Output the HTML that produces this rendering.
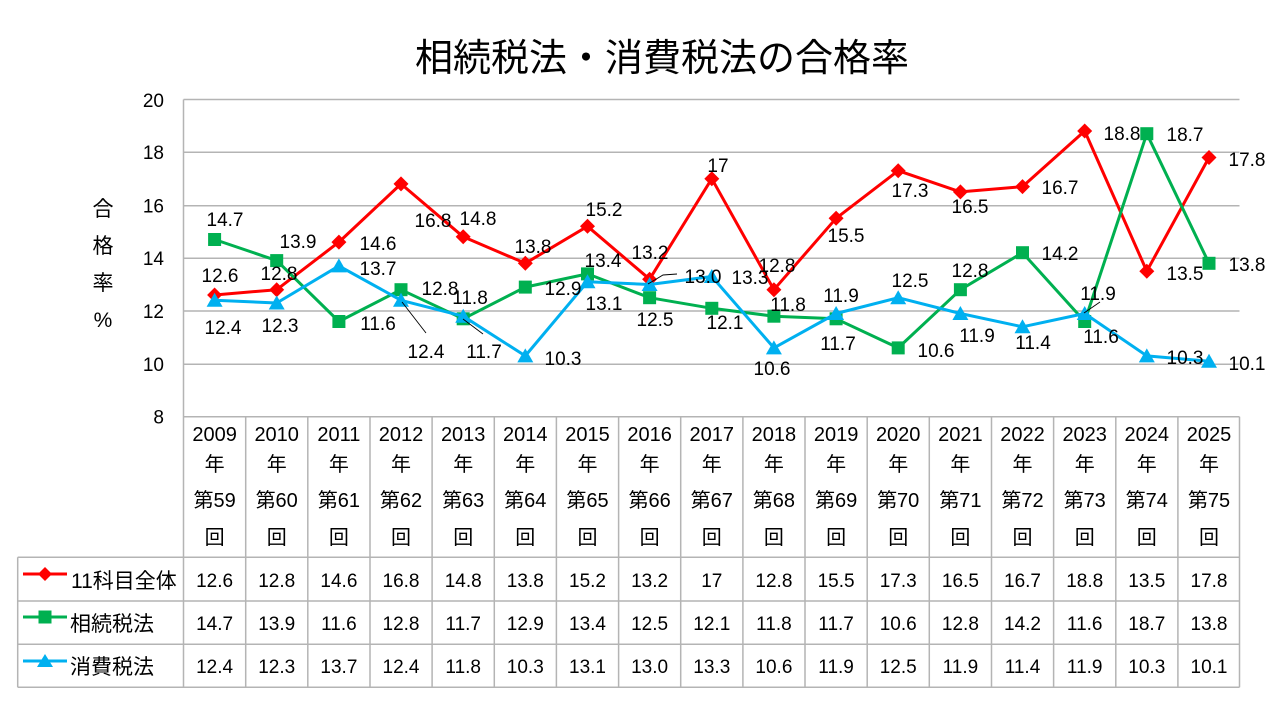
<!DOCTYPE html>
<html><head><meta charset="utf-8"><style>
html,body{margin:0;padding:0;background:#fff;}
svg{display:block;}
text{font-family:"Liberation Sans","Noto Sans CJK JP",sans-serif;fill:#000;}
.lb{font-size:19px;text-anchor:middle;}
.tk{font-size:19px;text-anchor:end;}
.cj{font-family:"Liberation Sans","Noto Sans CJK JP",sans-serif;}
</style></head><body>
<svg width="1281" height="707" viewBox="0 0 1281 707" xmlns="http://www.w3.org/2000/svg">
<defs>
<marker id="md" markerWidth="16" markerHeight="16" refX="8" refY="8" markerUnits="userSpaceOnUse"><path d="M8 0.5L15.5 8L8 15.5L0.5 8Z" fill="#ff0000"/></marker>
<marker id="ms" markerWidth="16" markerHeight="16" refX="8" refY="8" markerUnits="userSpaceOnUse"><rect x="1.5" y="1.5" width="13" height="13" fill="#00b050"/></marker>
<marker id="mt" markerWidth="18" markerHeight="18" refX="9" refY="9" markerUnits="userSpaceOnUse"><path d="M9 1.5L17 15.5H1Z" fill="#00b0f0"/></marker>
</defs>
<rect width="1281" height="707" fill="#fff"/>
<!-- title -->
<text x="662" y="71" font-size="38" text-anchor="middle" class="cj">相続税法・消費税法の合格率</text>
<!-- gridlines -->
<g stroke="#b4b4b4" stroke-width="1.5" fill="none">
<line x1="183.5" y1="99.5" x2="1239.5" y2="99.5"/>
<line x1="183.5" y1="152.3" x2="1239.5" y2="152.3"/>
<line x1="183.5" y1="205.7" x2="1239.5" y2="205.7"/>
<line x1="183.5" y1="258.3" x2="1239.5" y2="258.3"/>
<line x1="183.5" y1="311" x2="1239.5" y2="311"/>
<line x1="183.5" y1="364.3" x2="1239.5" y2="364.3"/>
<line x1="183.5" y1="99.5" x2="183.5" y2="687.3"/>
<!-- table -->
<line x1="183.5" y1="416.7" x2="1239.5" y2="416.7"/>
<line x1="17.7" y1="557.3" x2="1239.5" y2="557.3"/>
<line x1="17.7" y1="601" x2="1239.5" y2="601"/>
<line x1="17.7" y1="644.3" x2="1239.5" y2="644.3"/>
<line x1="17.7" y1="687.3" x2="1239.5" y2="687.3"/>
<line x1="17.7" y1="557.3" x2="17.7" y2="687.3"/>
<line x1="1239.5" y1="416.7" x2="1239.5" y2="687.3"/>
<line x1="245.7" y1="416.7" x2="245.7" y2="687.3"/>
<line x1="307.8" y1="416.7" x2="307.8" y2="687.3"/>
<line x1="370" y1="416.7" x2="370" y2="687.3"/>
<line x1="432.1" y1="416.7" x2="432.1" y2="687.3"/>
<line x1="494.3" y1="416.7" x2="494.3" y2="687.3"/>
<line x1="556.4" y1="416.7" x2="556.4" y2="687.3"/>
<line x1="618.6" y1="416.7" x2="618.6" y2="687.3"/>
<line x1="680.7" y1="416.7" x2="680.7" y2="687.3"/>
<line x1="742.9" y1="416.7" x2="742.9" y2="687.3"/>
<line x1="805" y1="416.7" x2="805" y2="687.3"/>
<line x1="867.2" y1="416.7" x2="867.2" y2="687.3"/>
<line x1="929.3" y1="416.7" x2="929.3" y2="687.3"/>
<line x1="991.5" y1="416.7" x2="991.5" y2="687.3"/>
<line x1="1053.6" y1="416.7" x2="1053.6" y2="687.3"/>
<line x1="1115.8" y1="416.7" x2="1115.8" y2="687.3"/>
<line x1="1177.9" y1="416.7" x2="1177.9" y2="687.3"/>
</g>
<!-- y ticks -->
<g class="tk">
<text class="tk" x="164" y="107">20</text>
<text class="tk" x="164" y="159">18</text>
<text class="tk" x="164" y="212.5">16</text>
<text class="tk" x="164" y="265">14</text>
<text class="tk" x="164" y="318">12</text>
<text class="tk" x="164" y="371">10</text>
<text class="tk" x="164" y="423.5">8</text>
</g>
<!-- y axis title -->
<g font-size="21" text-anchor="middle">
<text x="103" y="216">合</text>
<text x="103" y="253">格</text>
<text x="103" y="290">率</text>
<text x="103" y="327">%</text>
</g>
<!-- series -->
<polyline fill="none" stroke="#ff0000" stroke-width="3" stroke-linejoin="round" marker-start="url(#md)" marker-mid="url(#md)" marker-end="url(#md)" points="214.6,295.0 276.7,289.7 338.9,242.1 401.0,183.9 463.2,236.8 525.3,263.3 587.5,226.3 649.6,279.2 711.8,178.7 773.9,289.7 836.1,218.3 898.2,170.7 960.4,191.9 1022.5,186.6 1084.7,131.0 1146.8,271.2 1209.0,157.5"/>
<polyline fill="none" stroke="#00b050" stroke-width="3" stroke-linejoin="round" marker-start="url(#ms)" marker-mid="url(#ms)" marker-end="url(#ms)" points="214.6,239.5 276.7,260.6 338.9,321.5 401.0,289.7 463.2,318.8 525.3,287.1 587.5,273.9 649.6,297.7 711.8,308.3 773.9,316.2 836.1,318.8 898.2,347.9 960.4,289.7 1022.5,252.7 1084.7,321.5 1146.8,133.7 1209.0,263.3"/>
<polyline fill="none" stroke="#00b0f0" stroke-width="3" stroke-linejoin="round" marker-start="url(#mt)" marker-mid="url(#mt)" marker-end="url(#mt)" points="214.6,300.3 276.7,303.0 338.9,265.9 401.0,300.3 463.2,316.2 525.3,355.9 587.5,281.8 649.6,284.5 711.8,276.5 773.9,347.9 836.1,313.5 898.2,297.7 960.4,313.5 1022.5,326.8 1084.7,313.5 1146.8,355.9 1209.0,361.2"/>
<!-- leader lines -->
<g stroke="#000" stroke-width="0.9" fill="none">
<line x1="402" y1="302" x2="426" y2="333"/>
<line x1="463" y1="319" x2="483" y2="334"/>
<polyline points="648,284 663,275 677,274"/>
<line x1="1084" y1="313" x2="1100" y2="302"/>
</g>
<!-- data labels red -->
<g class="lb">
<text class="lb" x="220" y="282">12.6</text>
<text class="lb" x="279" y="280">12.8</text>
<text class="lb" x="378" y="250">14.6</text>
<text class="lb" x="433" y="227">16.8</text>
<text class="lb" x="478" y="225">14.8</text>
<text class="lb" x="533" y="253">13.8</text>
<text class="lb" x="604" y="216">15.2</text>
<text class="lb" x="650" y="259">13.2</text>
<text class="lb" x="718" y="172">17</text>
<text class="lb" x="777" y="272">12.8</text>
<text class="lb" x="846" y="242">15.5</text>
<text class="lb" x="910" y="197">17.3</text>
<text class="lb" x="970" y="213">16.5</text>
<text class="lb" x="1060" y="194">16.7</text>
<text class="lb" x="1122" y="140">18.8</text>
<text class="lb" x="1185" y="280">13.5</text>
<text class="lb" x="1247" y="166">17.8</text>
<!-- green -->
<text class="lb" x="225" y="226">14.7</text>
<text class="lb" x="298" y="248">13.9</text>
<text class="lb" x="378" y="330">11.6</text>
<text class="lb" x="440" y="295">12.8</text>
<text class="lb" x="484" y="358">11.7</text>
<text class="lb" x="563" y="295">12.9</text>
<text class="lb" x="603" y="267">13.4</text>
<text class="lb" x="655" y="326">12.5</text>
<text class="lb" x="725" y="329">12.1</text>
<text class="lb" x="788" y="311">11.8</text>
<text class="lb" x="838" y="350">11.7</text>
<text class="lb" x="936" y="357">10.6</text>
<text class="lb" x="970" y="277">12.8</text>
<text class="lb" x="1060" y="260">14.2</text>
<text class="lb" x="1101" y="343">11.6</text>
<text class="lb" x="1185" y="141">18.7</text>
<text class="lb" x="1247" y="271">13.8</text>
<!-- blue -->
<text class="lb" x="223" y="334">12.4</text>
<text class="lb" x="280" y="332">12.3</text>
<text class="lb" x="378" y="275">13.7</text>
<text class="lb" x="426" y="358">12.4</text>
<text class="lb" x="470" y="304">11.8</text>
<text class="lb" x="563" y="365">10.3</text>
<text class="lb" x="604" y="310">13.1</text>
<text class="lb" x="703" y="283">13.0</text>
<text class="lb" x="750" y="284">13.3</text>
<text class="lb" x="772" y="375">10.6</text>
<text class="lb" x="841" y="302">11.9</text>
<text class="lb" x="910" y="287">12.5</text>
<text class="lb" x="977" y="342">11.9</text>
<text class="lb" x="1033" y="349">11.4</text>
<text class="lb" x="1098" y="300">11.9</text>
<text class="lb" x="1185" y="364">10.3</text>
<text class="lb" x="1247" y="370">10.1</text>
</g>
<!-- category headers -->
<g font-size="20" text-anchor="middle">
<text x="214.6" y="441">2009</text><text x="214.6" y="471">年</text><text x="214.6" y="507">第59</text><text x="214.6" y="544">回</text>
<text x="276.7" y="441">2010</text><text x="276.7" y="471">年</text><text x="276.7" y="507">第60</text><text x="276.7" y="544">回</text>
<text x="338.9" y="441">2011</text><text x="338.9" y="471">年</text><text x="338.9" y="507">第61</text><text x="338.9" y="544">回</text>
<text x="401.0" y="441">2012</text><text x="401.0" y="471">年</text><text x="401.0" y="507">第62</text><text x="401.0" y="544">回</text>
<text x="463.2" y="441">2013</text><text x="463.2" y="471">年</text><text x="463.2" y="507">第63</text><text x="463.2" y="544">回</text>
<text x="525.3" y="441">2014</text><text x="525.3" y="471">年</text><text x="525.3" y="507">第64</text><text x="525.3" y="544">回</text>
<text x="587.5" y="441">2015</text><text x="587.5" y="471">年</text><text x="587.5" y="507">第65</text><text x="587.5" y="544">回</text>
<text x="649.6" y="441">2016</text><text x="649.6" y="471">年</text><text x="649.6" y="507">第66</text><text x="649.6" y="544">回</text>
<text x="711.8" y="441">2017</text><text x="711.8" y="471">年</text><text x="711.8" y="507">第67</text><text x="711.8" y="544">回</text>
<text x="773.9" y="441">2018</text><text x="773.9" y="471">年</text><text x="773.9" y="507">第68</text><text x="773.9" y="544">回</text>
<text x="836.1" y="441">2019</text><text x="836.1" y="471">年</text><text x="836.1" y="507">第69</text><text x="836.1" y="544">回</text>
<text x="898.2" y="441">2020</text><text x="898.2" y="471">年</text><text x="898.2" y="507">第70</text><text x="898.2" y="544">回</text>
<text x="960.4" y="441">2021</text><text x="960.4" y="471">年</text><text x="960.4" y="507">第71</text><text x="960.4" y="544">回</text>
<text x="1022.5" y="441">2022</text><text x="1022.5" y="471">年</text><text x="1022.5" y="507">第72</text><text x="1022.5" y="544">回</text>
<text x="1084.7" y="441">2023</text><text x="1084.7" y="471">年</text><text x="1084.7" y="507">第73</text><text x="1084.7" y="544">回</text>
<text x="1146.8" y="441">2024</text><text x="1146.8" y="471">年</text><text x="1146.8" y="507">第74</text><text x="1146.8" y="544">回</text>
<text x="1209.0" y="441">2025</text><text x="1209.0" y="471">年</text><text x="1209.0" y="507">第75</text><text x="1209.0" y="544">回</text>
</g>
<!-- legend column -->
<line x1="23" y1="574" x2="67" y2="574" stroke="#ff0000" stroke-width="3"/>
<path d="M45 567L52 574L45 581L38 574Z" fill="#ff0000"/>
<line x1="23" y1="617" x2="67" y2="617" stroke="#00b050" stroke-width="3"/>
<rect x="38.5" y="610.5" width="13" height="13" fill="#00b050"/>
<line x1="23" y1="661" x2="67" y2="661" stroke="#00b0f0" stroke-width="3"/>
<path d="M45 654L53 667H37Z" fill="#00b0f0"/>
<g font-size="21">
<text x="71" y="588">11科目全体</text>
<text x="70" y="631">相続税法</text>
<text x="70" y="674">消費税法</text>
</g>
<!-- values -->
<g class="lb">
<text class="lb" x="214.6" y="587">12.6</text><text class="lb" x="276.7" y="587">12.8</text><text class="lb" x="338.9" y="587">14.6</text><text class="lb" x="401.0" y="587">16.8</text><text class="lb" x="463.2" y="587">14.8</text><text class="lb" x="525.3" y="587">13.8</text><text class="lb" x="587.5" y="587">15.2</text><text class="lb" x="649.6" y="587">13.2</text><text class="lb" x="711.8" y="587">17</text><text class="lb" x="773.9" y="587">12.8</text><text class="lb" x="836.1" y="587">15.5</text><text class="lb" x="898.2" y="587">17.3</text><text class="lb" x="960.4" y="587">16.5</text><text class="lb" x="1022.5" y="587">16.7</text><text class="lb" x="1084.7" y="587">18.8</text><text class="lb" x="1146.8" y="587">13.5</text><text class="lb" x="1209.0" y="587">17.8</text>
<text class="lb" x="214.6" y="630">14.7</text><text class="lb" x="276.7" y="630">13.9</text><text class="lb" x="338.9" y="630">11.6</text><text class="lb" x="401.0" y="630">12.8</text><text class="lb" x="463.2" y="630">11.7</text><text class="lb" x="525.3" y="630">12.9</text><text class="lb" x="587.5" y="630">13.4</text><text class="lb" x="649.6" y="630">12.5</text><text class="lb" x="711.8" y="630">12.1</text><text class="lb" x="773.9" y="630">11.8</text><text class="lb" x="836.1" y="630">11.7</text><text class="lb" x="898.2" y="630">10.6</text><text class="lb" x="960.4" y="630">12.8</text><text class="lb" x="1022.5" y="630">14.2</text><text class="lb" x="1084.7" y="630">11.6</text><text class="lb" x="1146.8" y="630">18.7</text><text class="lb" x="1209.0" y="630">13.8</text>
<text class="lb" x="214.6" y="673">12.4</text><text class="lb" x="276.7" y="673">12.3</text><text class="lb" x="338.9" y="673">13.7</text><text class="lb" x="401.0" y="673">12.4</text><text class="lb" x="463.2" y="673">11.8</text><text class="lb" x="525.3" y="673">10.3</text><text class="lb" x="587.5" y="673">13.1</text><text class="lb" x="649.6" y="673">13.0</text><text class="lb" x="711.8" y="673">13.3</text><text class="lb" x="773.9" y="673">10.6</text><text class="lb" x="836.1" y="673">11.9</text><text class="lb" x="898.2" y="673">12.5</text><text class="lb" x="960.4" y="673">11.9</text><text class="lb" x="1022.5" y="673">11.4</text><text class="lb" x="1084.7" y="673">11.9</text><text class="lb" x="1146.8" y="673">10.3</text><text class="lb" x="1209.0" y="673">10.1</text>
</g>
</svg>
</body></html>
